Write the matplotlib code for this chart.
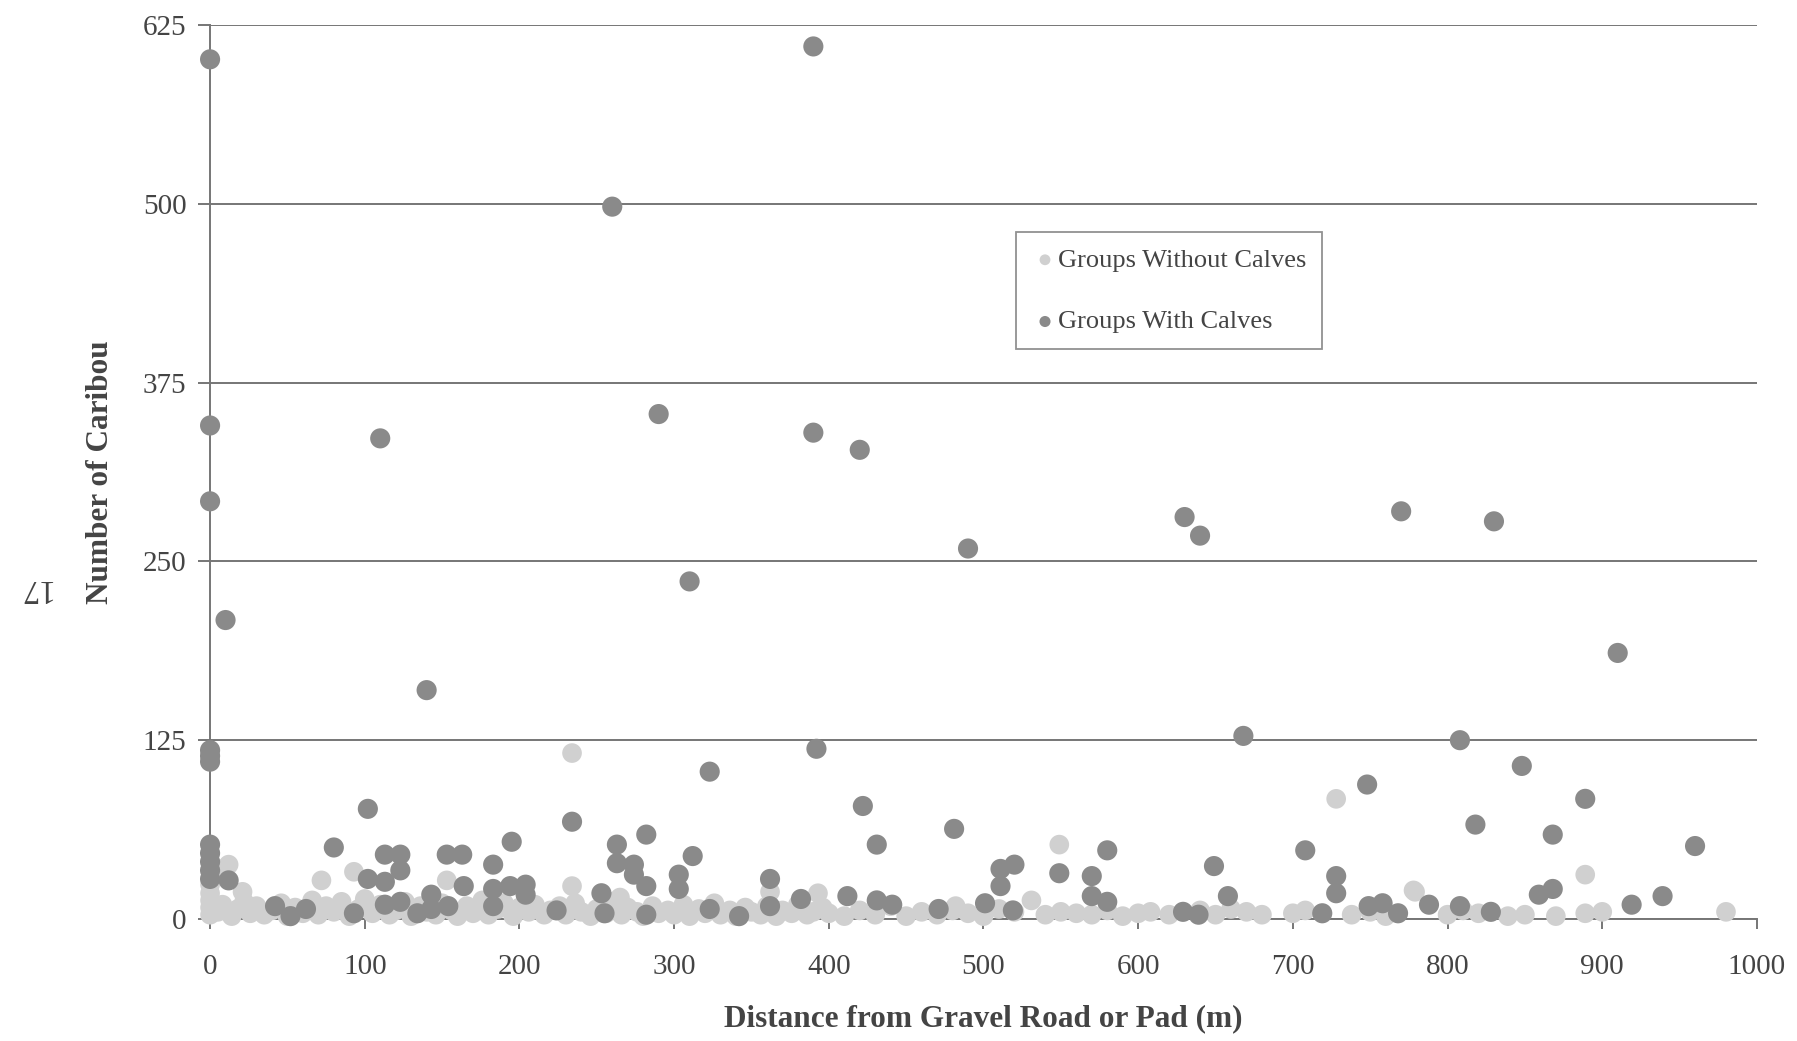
import matplotlib
matplotlib.use("Agg")
import matplotlib.pyplot as plt

# =============================================================================
# Data
# =============================================================================

# groups with calves (dark points)
with_x = [0, 390, 260, 0, 110, 290, 390, 420, 0, 310, 490, 630, 640, 770, 830,
          10, 140, 910, 0, 0, 0,
          0, 0, 0, 0, 0, 12, 42, 52, 62, 80, 93, 102, 102, 113, 113, 123, 123,
          113, 123, 134, 143, 143, 154, 153, 163, 164, 183, 183, 194, 204, 204,
          183, 195, 224, 234, 253, 255, 263, 263, 274, 274, 282, 282, 282, 303,
          303, 312, 323, 323, 342, 362, 362, 382, 392, 412, 422, 431, 431, 441,
          471, 481, 501, 511, 520, 511, 519, 549, 570, 570, 580, 580, 629, 639,
          649, 658, 668, 708, 719, 728, 728, 748, 749, 758, 768, 788, 808, 848,
          889, 818, 868, 960, 859, 868, 808, 828, 919, 939]
with_y = [601, 610, 498, 345, 336, 353, 340, 328, 292, 236, 259, 281, 268, 285, 278,
          209, 160, 186, 118, 114, 110,
          52, 46, 40, 34, 28, 27, 9, 2, 7, 50, 4, 77, 28, 26, 45, 45, 34,
          10, 12, 4, 17, 7, 9, 45, 45, 23, 38, 21, 23, 24, 17,
          9, 54, 6, 68, 18, 4, 52, 39, 38, 31, 59, 23, 3, 31,
          21, 44, 103, 7, 2, 28, 9, 14, 119, 16, 79, 52, 13, 10,
          7, 63, 11, 35, 38, 23, 6, 32, 30, 16, 12, 48, 5, 3,
          37, 16, 128, 48, 4, 30, 18, 94, 9, 11, 4, 10, 125, 107,
          84, 66, 59, 51, 17, 21, 9, 5, 10, 16]

# groups without calves (light points)
without_x = [234, 234, 72, 93, 12, 21, 153, 265, 393, 362, 482, 728, 549, 531,
             778, 889, 889, 839, 980, 779, 8,
             0, 0, 0, 0, 0, 5, 8, 14, 18, 22, 26, 30, 35, 40, 46, 50, 55, 60,
             66, 70, 75, 80, 85, 90, 96, 100, 105, 110, 116, 120, 126, 130, 136,
             140, 146, 150, 156, 160, 166, 170, 176, 180, 186, 190, 196, 200,
             206, 210, 216, 220, 226, 230, 236, 240, 246, 250, 256, 260, 266,
             270, 276, 280, 286, 290, 296, 300, 306, 310, 316, 320, 326, 330,
             336, 340, 346, 350, 356, 360, 366, 370, 376, 380, 386, 390, 396,
             400, 410, 420, 430, 440, 450, 460, 470, 480, 490, 500, 510, 520,
             540, 550, 560, 570, 580, 590, 600, 608, 620, 640, 650, 660, 670,
             680, 700, 708, 738, 750, 760, 800, 810, 820, 850, 870, 900]
without_y = [116, 23, 27, 33, 38, 19, 27, 15, 18, 19, 9, 84, 52, 13,
             20, 31, 4, 2, 5, 19, 35,
             3, 8, 13, 18, 24, 5, 10, 2, 7, 12, 4, 9, 3, 6, 11, 2, 8, 4,
             13, 3, 9, 5, 12, 2, 7, 14, 4, 10, 3, 6, 12, 2, 9,
             5, 3, 11, 6, 2, 9, 4, 13, 3, 7, 11, 2, 8,
             5, 10, 3, 6, 9, 3, 11, 5, 2, 7, 4, 12, 3,
             8, 5, 2, 9, 4, 6, 3, 10, 2, 7, 4, 11, 3,
             6, 2, 8, 5, 3, 9, 2, 6, 4, 10, 3, 5, 8,
             4, 2, 6, 3, 9, 2, 5, 3, 6, 4, 2, 7, 5,
             3, 5, 4, 3, 6, 2, 4, 5, 3, 6, 3, 7, 5,
             3, 4, 6, 3, 5, 2, 3, 6, 4, 3, 2, 5]

y_ticks = [0, 125, 250, 375, 500, 625]
x_ticks = [0, 100, 200, 300, 400, 500, 600, 700, 800, 900, 1000]

# =============================================================================
# Styling
# =============================================================================

DARK = '#8a8a8a'
LIGHT = '#d0d0d0'
LINE = '#767676'
TEXT = '#444444'
SERIF = ['Liberation Serif', 'DejaVu Serif']

plt.rcParams['font.family'] = SERIF

# =============================================================================
# Plot
# =============================================================================

fig = plt.figure(figsize=(17.97, 10.41), dpi=100)
ax = fig.add_axes([0.1169, 0.1172, 0.8608, 0.8588])

ax.scatter(without_x, without_y, s=200, color=LIGHT, edgecolors='none',
           label='Groups Without Calves', zorder=3, clip_on=False)
ax.scatter(with_x, with_y, s=210, color=DARK, edgecolors='none',
           label='Groups With Calves', zorder=4, clip_on=False)

ax.set_xlim(0, 1000)
ax.set_ylim(0, 625)
ax.set_xticks(x_ticks)
ax.set_yticks(y_ticks)
ax.grid(axis='y', color=LINE, linewidth=1.4, zorder=1)
ax.set_axisbelow(True)

for side in ['top', 'right']:
    ax.spines[side].set_visible(False)
for side in ['left', 'bottom']:
    ax.spines[side].set_color(LINE)
    ax.spines[side].set_linewidth(1.4)
ax.spines['left'].set_zorder(2)

ax.tick_params(axis='y', length=9, width=1.4, color=LINE, labelsize=21,
               labelcolor=TEXT, pad=8)
ax.tick_params(axis='x', length=7, width=1.4, color=LINE, labelsize=21,
               labelcolor=TEXT, pad=18)

ax.set_xlabel('Distance from Gravel Road or Pad (m)', fontsize=22.5,
              fontweight='bold', color=TEXT, labelpad=18)
ax.set_ylabel('Number of Caribou', fontsize=22.5, fontweight='bold',
              color=TEXT, labelpad=20)

leg = ax.legend(loc='upper left', bbox_to_anchor=(0.521, 0.768),
                fontsize=19, frameon=True, fancybox=False,
                markerscale=0.55, handletextpad=0.0, handlelength=1.0,
                labelspacing=1.45, borderpad=0.6, borderaxespad=0)
leg.get_frame().set_edgecolor(LINE)
leg.get_frame().set_linewidth(1.3)
for t in leg.get_texts():
    t.set_color(TEXT)

# page number printed sideways in the margin
fig.text(0.019, 0.435, '17', rotation=180, fontsize=24, color=TEXT,
         ha='center', va='center')

fig.savefig('out.png', dpi=100)
